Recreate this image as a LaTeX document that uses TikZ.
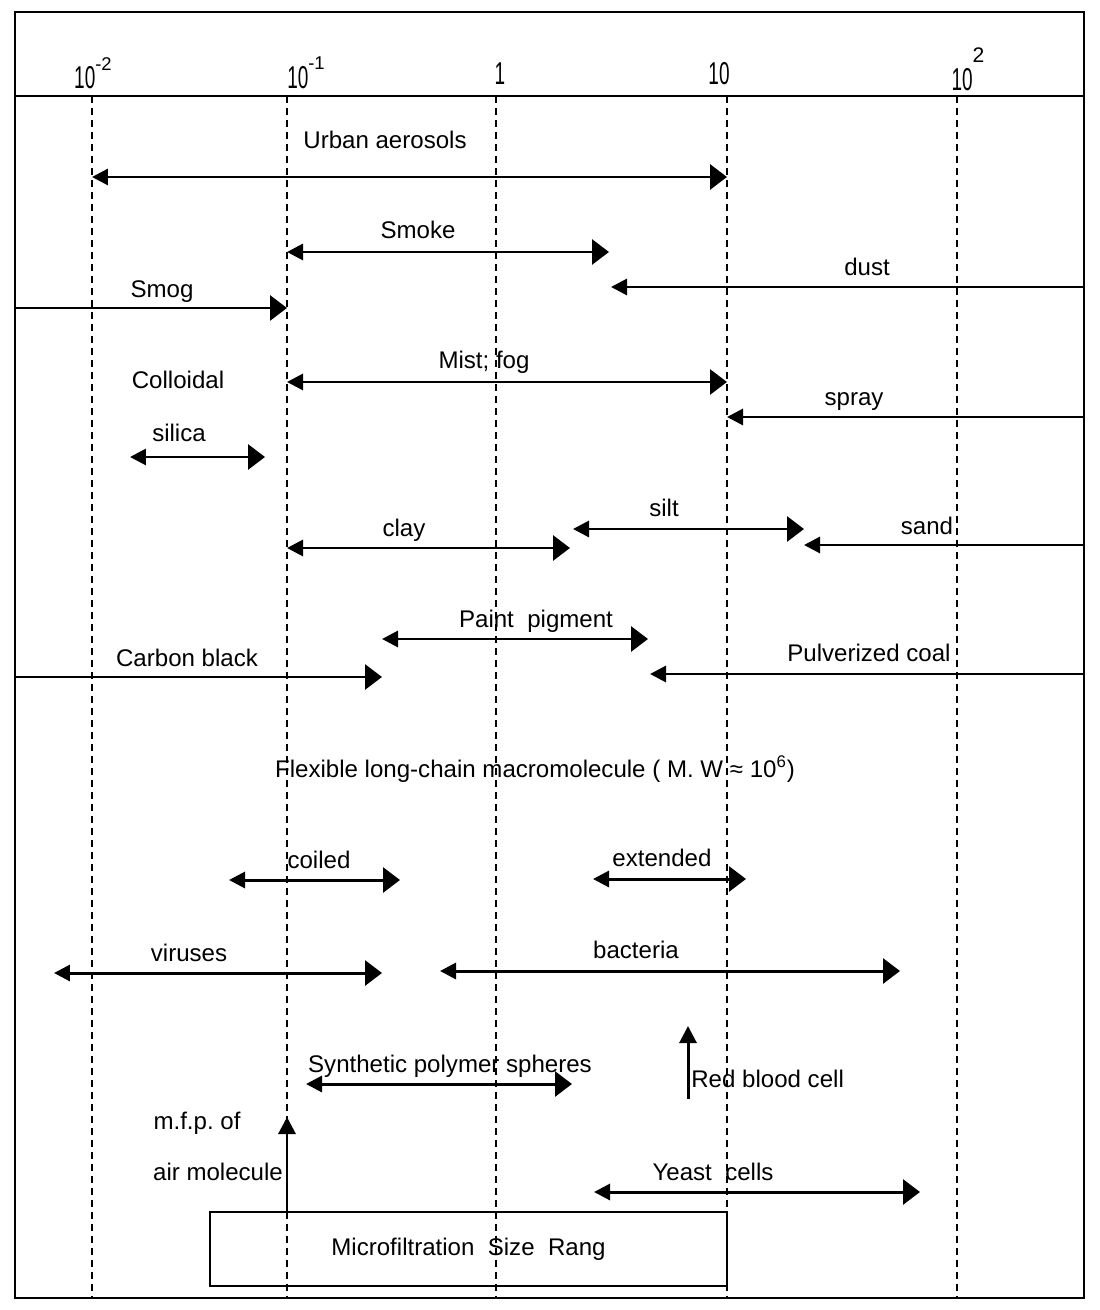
\documentclass[tikz,border=0pt]{standalone}
\usepackage{fontspec}
\setmainfont{Liberation Sans}
\usepackage{graphicx}
\usetikzlibrary{arrows.meta}
\frenchspacing

\begin{document}
\begin{tikzpicture}[x=0.02cm, y=-0.02cm,
    every node/.style={font=\fontsize{13.7}{16}\selectfont, inner sep=0pt},
    lbl/.style={anchor=base},
    hdr/.style={anchor=base, font=\fontsize{18}{20}\selectfont},
    tipL/.tip={Triangle[length=0.32cm, width=0.32cm]},
    tipR/.tip={Triangle[length=0.34cm, width=0.50cm]},
    tipU/.tip={Triangle[length=0.34cm, width=0.34cm]},
    rng/.style={line width=1.7pt},
    gridln/.style={line width=1.1pt, dash pattern=on 0.15cm off 0.09cm}]
  \useasboundingbox (0,0) rectangle (1099,1310);
  % Ramme og skala
  \draw[line width=1.5pt] (15,12) rectangle (1084,1298);
  \draw[line width=1.5pt] (15,96) -- (1084,96);
  \draw[gridln] (92,96) -- (92,1298);
  \draw[gridln] (287,96) -- (287,1298);
  \draw[gridln] (496,96) -- (496,1298);
  \draw[gridln] (727,96) -- (727,1298);
  \draw[gridln] (957,96) -- (957,1298);
  \node[hdr] (hA) at (93,89) {\scalebox{0.6}[1]{10}\raisebox{0.36cm}{\fontsize{10.5}{12}\selectfont -2}};
  \node[hdr] (hB) at (306,89) {\scalebox{0.6}[1]{10}\raisebox{0.38cm}{\fontsize{10.5}{12}\selectfont -1}};
  \node[hdr] (hC) at (500,85) {\scalebox{0.6}[1]{1}};
  \node[hdr] (hD) at (719,85) {\scalebox{0.6}[1]{10}};
  \node[hdr] (hE) at (968,91) {\scalebox{0.6}[1]{10}\raisebox{0.56cm}{\fontsize{12}{14}\selectfont 2}};
  % Aerosoler
  \node[lbl] (urban) at (385,149) {Urban aerosols};
  \draw[rng, tipL-tipR] (92,177) -- (727,177);
  \node[lbl] (smoke) at (418,239) {Smoke};
  \draw[rng, tipL-tipR] (287,252) -- (609,252);
  \node[lbl] (dust) at (867,276) {dust};
  \draw[rng, tipL-] (611,287) -- (1084,287);
  \node[lbl] (smog) at (162,298) {Smog};
  \draw[rng, -tipR] (15,308) -- (287,308);
  \node[lbl] (mist) at (484,369) {Mist; fog};
  \draw[rng, tipL-tipR] (287,382) -- (727,382);
  \node[lbl] (colloid) at (178,389) {Colloidal};
  \node[lbl] (silica) at (179,441) {silica};
  \draw[rng, tipL-tipR] (130,457) -- (265,457);
  \node[lbl] (spray) at (854,406) {spray};
  \draw[rng, tipL-] (727,417) -- (1084,417);
  % Jord
  \node[lbl] (silt) at (664,516) {silt};
  \draw[rng, tipL-tipR] (573,529) -- (804,529);
  \node[lbl] (sand) at (927,534) {sand};
  \draw[rng, tipL-] (804,545) -- (1084,545);
  \node[lbl] (clay) at (404,536) {clay};
  \draw[rng, tipL-tipR] (287,548) -- (570,548);
  % Pigment og kul
  \node[lbl] (paint) at (536,627) {Paint\ \ pigment};
  \draw[rng, tipL-tipR] (382,639) -- (648,639);
  \node[lbl] (coal) at (869,661) {Pulverized coal};
  \draw[rng, tipL-] (650,674) -- (1084,674);
  \node[lbl] (carbon) at (187,666) {Carbon black};
  \draw[rng, -tipR] (15,677) -- (382,677);
  % Makromolekyler
  \node[lbl] (flexible) at (535,777) {Flexible long-chain macromolecule ( M. W ≈ 10\textsuperscript{6})};
  \node[lbl] (coiled) at (319,868) {coiled};
  \draw[rng, tipL-tipR] (229,880) -- (400,880);
  \node[lbl] (extended) at (662,866) {extended};
  \draw[rng, tipL-tipR] (593,879) -- (746,879);
  % Mikroorganismer
  \node[lbl] (viruses) at (189,961) {viruses};
  \draw[rng, tipL-tipR] (54,973) -- (382,973);
  \node[lbl] (bacteria) at (636,958) {bacteria};
  \draw[rng, tipL-tipR] (440,971) -- (900,971);
  \node[lbl] (polymer) at (450,1072) {Synthetic polymer spheres};
  \draw[rng, tipL-tipR] (306,1084) -- (572,1084);
  \node[lbl, anchor=base west] (rbc) at (691,1087) {Red blood cell};
  \draw[rng, -tipU] (688,1099) -- (688,1026);
  \node[lbl] (yeast) at (713,1180) {Yeast\ \ cells};
  \draw[rng, tipL-tipR] (594,1192) -- (920,1192);
  % Filtreringsomraade
  \node[draw, line width=1.5pt, minimum width=10.34cm, minimum height=1.48cm] (mfbox) at (468.5,1249) {Microfiltration\ \ Size\ \ Rang};
  \node[lbl] (mfp) at (197,1129) {m.f.p. of};
  \node[lbl] (airmol) at (218,1180) {air molecule};
  \draw[rng, -tipU] (287,0 |- mfbox.north) -- (287,1117);
\end{tikzpicture}
\end{document}
